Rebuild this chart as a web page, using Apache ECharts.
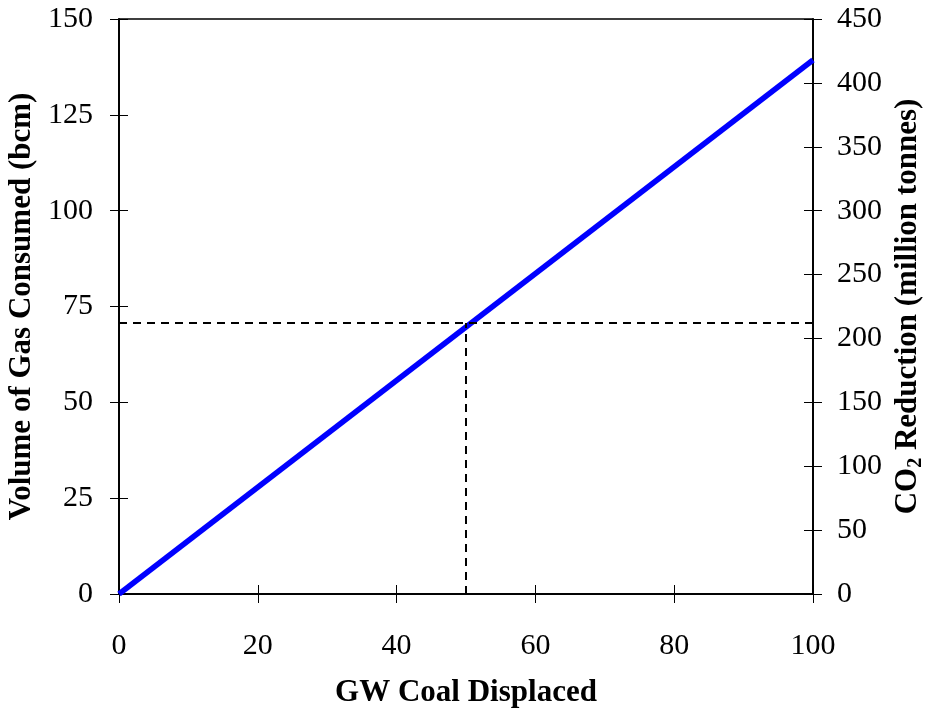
<!DOCTYPE html>
<html>
<head>
<meta charset="utf-8">
<script src="https://cdn.jsdelivr.net/npm/echarts@6/dist/echarts.min.js"></script>
<style>
  html, body { margin: 0; padding: 0; background: #fff; overflow: hidden; }
  #chart { width: 928px; height: 715px; }
</style>
</head>
<body>
<div id="chart"></div>
<script>
// data
const coalGW = [0, 100];          // GW coal displaced
const gasBcm = [0, 139.3];        // volume of gas consumed (bcm)
const markGW = 50;                // dashed guide: 50 GW
const markBcm = 70.7;             // dashed guide level
const xTicks = [0, 100, 20];      // min, max, interval
const gasTicks = [0, 150, 25];
const co2Ticks = [0, 450, 50];

const serif = "'Liberation Serif', 'Times New Roman', serif";
const lbl = { fontFamily: serif, fontSize: 30, color: '#000' };
const ttl = { fontFamily: serif, fontSize: 31, fontWeight: 'bold', color: '#000' };
const axLine = { show: true, lineStyle: { color: '#000', width: 1.5 } };

function valueAxis(range, extra) {
  return Object.assign({
    type: 'value',
    min: range[0], max: range[1], interval: range[2],
    axisLine: axLine,
    splitLine: { show: false },
    axisTick: { show: true, length: 9, lineStyle: { color: '#000', width: 1 } },
    axisLabel: { show: false }
  }, extra);
}

const innerTick = { show: true, inside: true, length: 9, lineStyle: { color: '#000', width: 1 } };

// two copies of each axis, one ticking outward and one inward, so the ticks cross
const xAxes = [
  valueAxis(xTicks, {
    position: 'bottom',
    axisLabel: Object.assign({ margin: 37 }, lbl),
    name: 'GW Coal Displaced', nameLocation: 'middle', nameGap: 83,
    nameTextStyle: ttl
  }),
  valueAxis(xTicks, { position: 'bottom', axisTick: innerTick })
];

const yAxes = [
  valueAxis(gasTicks, {
    position: 'left',
    axisLabel: Object.assign({ margin: 26 }, lbl),
    name: 'Volume of Gas Consumed (bcm)', nameLocation: 'middle', nameGap: 74,
    nameTextStyle: ttl
  }),
  valueAxis(gasTicks, { position: 'left', axisTick: innerTick }),
  valueAxis(co2Ticks, {
    position: 'right',
    axisLabel: Object.assign({ margin: 24 }, lbl),
    name: '{a|CO}{s|2}{a| Reduction (million tonnes)}', nameLocation: 'middle', nameGap: 77,
    nameRotate: 90,
    nameTextStyle: {
      rich: {
        a: Object.assign({ lineHeight: 35 }, ttl),
        s: { fontFamily: serif, fontSize: 20, fontWeight: 'bold', color: '#000', lineHeight: 20, verticalAlign: 'bottom' }
      }
    }
  }),
  valueAxis(co2Ticks, { position: 'right', axisTick: innerTick })
];

const chart = echarts.init(document.getElementById('chart'));
chart.setOption({
  animation: false,
  backgroundColor: '#fff',
  grid: {
    left: 119, right: 115, top: 19, bottom: 121,
    outerBoundsMode: 'none',
    show: true, borderColor: '#000', borderWidth: 1.5, backgroundColor: 'transparent'
  },
  xAxis: xAxes,
  yAxis: yAxes,
  series: [
    {
      type: 'line',
      data: coalGW.map((x, i) => [x, gasBcm[i]]),
      showSymbol: false,
      lineStyle: { color: '#0000ff', width: 5.5 },
      z: 3
    },
    {
      type: 'line',
      data: [[xTicks[0], markBcm], [xTicks[1], markBcm]],
      showSymbol: false,
      lineStyle: { color: '#000', width: 2, type: [8, 6] },
      z: 4
    },
    {
      type: 'line',
      data: [[markGW, gasTicks[0]], [markGW, markBcm]],
      showSymbol: false,
      lineStyle: { color: '#000', width: 2, type: [8, 6] },
      z: 4
    }
  ]
});
</script>
</body>
</html>
